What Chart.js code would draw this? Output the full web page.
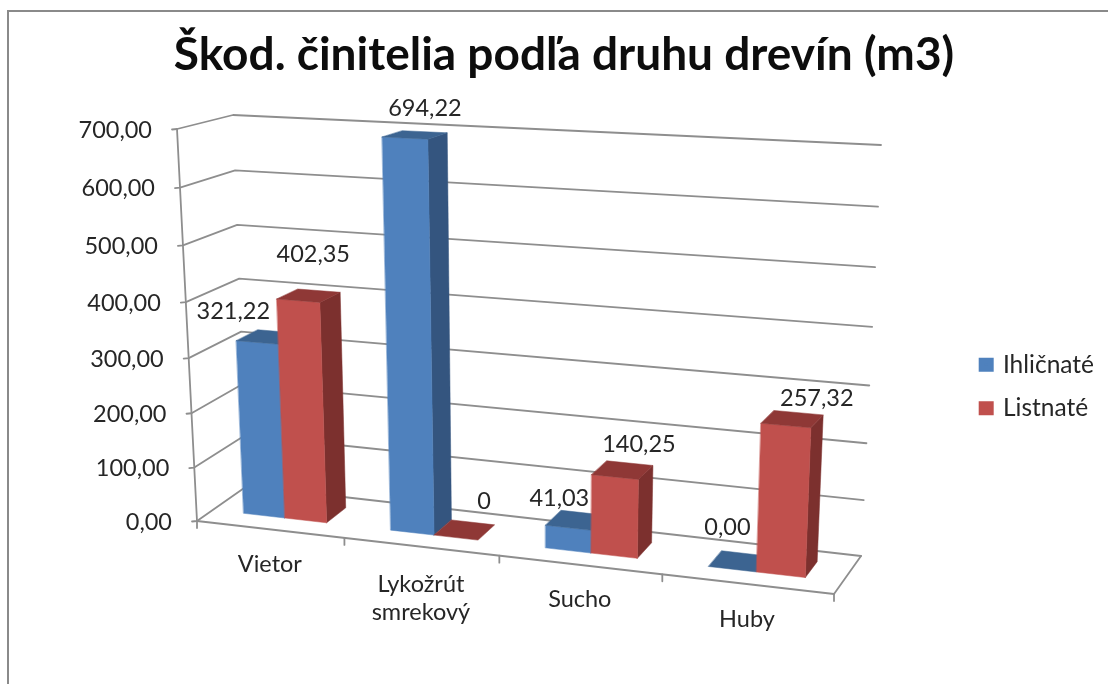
<!DOCTYPE html>
<html><head><meta charset="utf-8">
<style>html,body{margin:0;padding:0;background:#fff}canvas{display:block}</style>
<script src="https://cdn.jsdelivr.net/npm/chart.js@4"></script>
</head><body><canvas id="c" width="1108" height="684"></canvas>
<script>
const titleText = 'Škod. činitelia podľa druhu drevín (m3)';
const categories = ['Vietor', ['Lykožrút', 'smrekový'], 'Sucho', 'Huby'];
const seriesNames = ['Ihličnaté', 'Listnaté'];
const ihlicnate = [321.22, 694.22, 41.03, 0];
const listnate = [402.35, 0, 140.25, 257.32];
const ihlicnateLabels = ['321,22', '694,22', '41,03', '0,00'];
const listnateLabels = ['402,35', '0', '140,25', '257,32'];
const yTickLabels = ['0,00', '100,00', '200,00', '300,00', '400,00', '500,00', '600,00', '700,00'];

// Projection of the library's plot area into the tilted 3D box (layout only)
const FRONT = [[197,521],[834,594],[851,162],[177,129]];
const BACK  = [[247,486],[861,556],[881,145],[233,115]];
const DEPTH = [0.32, 0.74];
const FONT_SIZE = 23.5;
const FONT = FONT_SIZE + 'px Lato';
const INK = '#262626';
const GRID = '#8e8e8e';
const SHADES = [
  {front:'#4F81BD', side:'#34557F', top:'#3C6491'},
  {front:'#C0504D', side:'#7C302E', top:'#8F3836'}
];
// hand placed data label offsets from each bar's top centre
const LABEL_OFFSET = [
  [[-24,-31],[20,-30],[-9,-29],[-5,-42]],
  [[15,-46],[28,-36],[24,-33],[31,-27]]
];

function quad(p){
  const [[x0,y0],[x1,y1],[x2,y2],[x3,y3]] = p;
  const dx1=x1-x2,dx2=x3-x2,sx=x0-x1+x2-x3,dy1=y1-y2,dy2=y3-y2,sy=y0-y1+y2-y3;
  const det=dx1*dy2-dx2*dy1;
  const g=(sx*dy2-dx2*sy)/det,h=(dx1*sy-sx*dy1)/det;
  const a=x1-x0+g*x1,b=x3-x0+h*x3,d=y1-y0+g*y1,e=y3-y0+h*y3;
  return (u,v)=>{const w=g*u+h*v+1;return [(a*u+b*v+x0)/w,(d*u+e*v+y0)/w];};
}
const hFront=quad(FRONT),hBack=quad(BACK);
function proj(u,v,t){
  const f=hFront(u,v),b=hBack(u,v);
  return [f[0]+(b[0]-f[0])*t,f[1]+(b[1]-f[1])*t];
}
let area=null;
const uOf=x=>(x-area.left)/(area.right-area.left);
const vOf=y=>(area.bottom-y)/(area.bottom-area.top);
function poly(ctx,pts,fill){
  ctx.beginPath();pts.forEach((p,i)=>i?ctx.lineTo(p[0],p[1]):ctx.moveTo(p[0],p[1]));ctx.closePath();
  ctx.fillStyle=fill;ctx.fill();ctx.strokeStyle=fill;ctx.lineWidth=0.5;ctx.stroke();
}
function line(ctx,a,b){ctx.beginPath();ctx.moveTo(a[0],a[1]);ctx.lineTo(b[0],b[1]);ctx.stroke();}

// The library's bar element geometry drawn as a 3D box
function drawBar(ctx,el,s){
  const {x,y,base,width}=el.getProps(['x','y','base','width'],true);
  const u0=uOf(x-width/2),u1=uOf(x+width/2),v0=vOf(base),v1=vOf(y),[d0,d1]=DEPTH;
  if(v1>v0){
    poly(ctx,[proj(u1,v0,d0),proj(u1,v0,d1),proj(u1,v1,d1),proj(u1,v1,d0)],s.side);
    poly(ctx,[proj(u0,v0,d0),proj(u1,v0,d0),proj(u1,v1,d0),proj(u0,v1,d0)],s.front);
  }
  poly(ctx,[proj(u0,v1,d0),proj(u1,v1,d0),proj(u1,v1,d1),proj(u0,v1,d1)],s.top);
}

const box3d={
  id:'box3d',
  beforeDraw(chart){
    const c=chart.ctx;
    c.save();c.fillStyle='#fff';c.fillRect(0,0,chart.width,chart.height);
    c.strokeStyle='#8a8a8a';c.lineWidth=2;
    c.beginPath();c.moveTo(8,chart.height);c.lineTo(8,11);c.lineTo(chart.width,11);c.stroke();
    c.restore();
  },
  beforeDatasetsDraw(chart){
    area=chart.chartArea;
    const c=chart.ctx,ys=chart.scales.y,xs=chart.scales.x;
    c.save();
    c.strokeStyle=GRID;c.lineWidth=1.8;c.lineCap='round';c.lineJoin='round';
    c.font=FONT;c.fillStyle=INK;c.textAlign='right';c.textBaseline='middle';
    ys.ticks.forEach((t,i)=>{
      const v=vOf(ys.getPixelForValue(t.value));
      const a=proj(0,v,0),b=proj(0,v,1),r=proj(1,v,1);
      c.beginPath();c.moveTo(a[0]-5,a[1]+0.5);c.lineTo(a[0],a[1]);c.lineTo(b[0],b[1]);c.lineTo(r[0],r[1]);c.stroke();
      c.fillText(yTickLabels[i],a[0]-25,a[1]+1);
    });
    line(c,proj(0,0,0),proj(0,1,0));
    line(c,proj(0,0,0),proj(1,0,0));
    line(c,proj(1,0,0),proj(1,0,1));
    c.textAlign='center';
    const n=categories.length;
    for(let i=0;i<=n;i++){
      const px=i<n?xs.getPixelForTick(i)-(xs.getPixelForTick(1)-xs.getPixelForTick(0))/2:area.right;
      const p=proj(uOf(px),0,0);
      line(c,p,[p[0],p[1]+7]);
    }
    categories.forEach((cat,i)=>{
      const p=proj(uOf(xs.getPixelForTick(i)),0,0);
      const lines=Array.isArray(cat)?cat:[cat];
      const lead=lines.length>1?38:35;
      lines.forEach((l,k)=>c.fillText(l,p[0],p[1]+lead+k*28));
    });
    // first series behind, second in front
    seriesNames.forEach((_,si)=>chart.getDatasetMeta(si).data.forEach(el=>drawBar(c,el,SHADES[si])));
    c.restore();
  },
  beforeDatasetDraw(){ return false; },
  afterDatasetsDraw(chart){
    const c=chart.ctx;
    c.save();c.font=FONT;c.fillStyle=INK;c.textAlign='center';c.textBaseline='middle';
    [ihlicnateLabels,listnateLabels].forEach((labels,si)=>{
      chart.getDatasetMeta(si).data.forEach((el,i)=>{
        const p=proj(uOf(el.x),vOf(el.y),DEPTH[0]),o=LABEL_OFFSET[si][i];
        c.fillText(labels[i],p[0]+o[0],p[1]+o[1]);
      });
    });
    c.restore();
  }
};

new Chart(document.getElementById('c'),{
  type:'bar',
  plugins:[box3d],
  data:{labels:categories,datasets:[
    {label:seriesNames[0],data:ihlicnate,backgroundColor:SHADES[0].front},
    {label:seriesNames[1],data:listnate,backgroundColor:SHADES[1].front}
  ]},
  options:{
    responsive:false,animation:false,
    categoryPercentage:0.57,barPercentage:1,
    layout:{padding:{left:24,right:4,top:28,bottom:8}},
    scales:{
      x:{display:false},
      y:{display:false,min:0,max:700,ticks:{stepSize:100}}
    },
    plugins:{
      tooltip:{enabled:false},
      title:{display:true,text:titleText,color:'#0d0d0d',font:{family:'Lato',size:46,weight:'bold'},padding:{top:0,bottom:14}},
      legend:{
        position:'right',fullSize:false,
        labels:{
          boxWidth:9,boxHeight:8,padding:19,color:INK,font:{family:'Lato',size:24.5},
          generateLabels(chart){
            return chart.data.datasets.map((d,i)=>({text:d.label,fillStyle:d.backgroundColor,strokeStyle:d.backgroundColor,lineWidth:6,datasetIndex:i,fontColor:INK}));
          }
        }
      }
    }
  }
});
</script></body></html>
